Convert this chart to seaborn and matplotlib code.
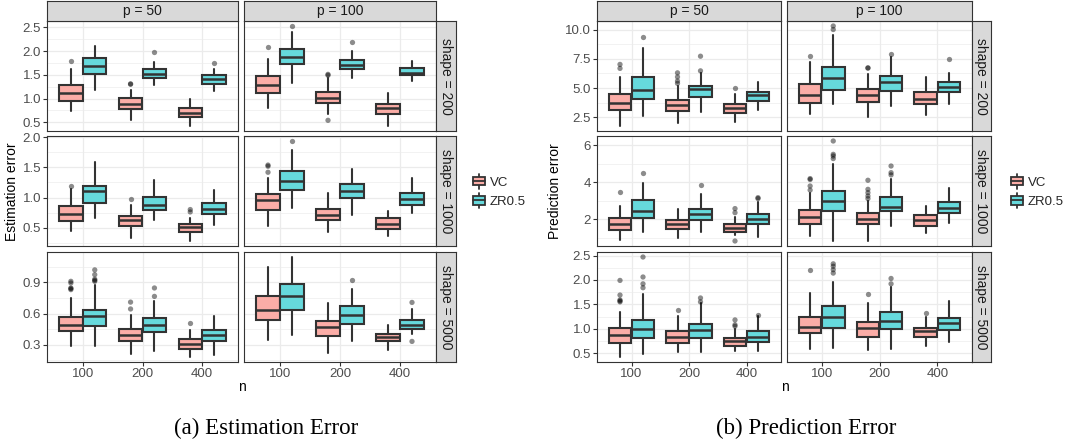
import numpy as np
import pandas as pd
import seaborn as sns
import matplotlib
matplotlib.use("Agg")
import matplotlib.pyplot as plt
from matplotlib.ticker import MultipleLocator, FormatStrFormatter
from matplotlib.patches import Rectangle, Patch
from matplotlib.lines import Line2D
from matplotlib.legend_handler import HandlerBase

methods = ["VC", "ZR0.5"]
n_levels = ["100", "200", "400"]
p_levels = ["p = 50", "p = 100"]
shape_levels = ["shape = 200", "shape = 1000", "shape = 5000"]

# box summaries, indexed [shape][p][n] -> (VC, ZR0.5)
est_lo = [
    [[(0.73, 1.19), (0.54, 1.28), (0.42, 1.15)], [(0.81, 1.33), (0.68, 1.44), (0.42, 1.36)]],
    [[(0.445, 0.667), (0.33, 0.627), (0.277, 0.545)], [(0.527, 0.82), (0.43, 0.705), (0.36, 0.75)]],
    [[(0.284, 0.29), (0.214, 0.236), (0.182, 0.204)], [(0.342, 0.397), (0.22, 0.332), (0.245, 0.40)]],
]
est_q1 = [
    [[(0.957, 1.525), (0.78, 1.44), (0.61, 1.31)], [(1.125, 1.735), (0.90, 1.615), (0.68, 1.49)]],
    [[(0.61, 0.905), (0.527, 0.79), (0.433, 0.72)], [(0.80, 1.133), (0.62, 1.0), (0.483, 0.883)]],
    [[(0.428, 0.477), (0.34, 0.419), (0.262, 0.332)], [(0.534, 0.63), (0.38, 0.502), (0.332, 0.45)]],
]
est_med = [
    [[(1.125, 1.685), (0.894, 1.525), (0.70, 1.41)], [(1.28, 1.875), (1.02, 1.71), (0.79, 1.54)]],
    [[(0.733, 1.11), (0.627, 0.87), (0.51, 0.805)], [(0.96, 1.28), (0.71, 1.11), (0.567, 0.97)]],
    [[(0.493, 0.58), (0.397, 0.493), (0.31, 0.397)], [(0.637, 0.765), (0.47, 0.589), (0.375, 0.493)]],
]
est_q3 = [
    [[(1.294, 1.854), (1.005, 1.63), (0.80, 1.49)], [(1.47, 2.04), (1.14, 1.805), (0.885, 1.64)]],
    [[(0.855, 1.19), (0.693, 1.017), (0.567, 0.905)], [(1.055, 1.44), (0.805, 1.22), (0.66, 1.083)]],
    [[(0.563, 0.637), (0.455, 0.557), (0.355, 0.445)], [(0.765, 0.888), (0.531, 0.669), (0.406, 0.54)]],
]
est_hi = [
    [[(1.63, 2.11), (1.19, 1.78), (0.98, 1.63)], [(1.84, 2.40), (1.44, 2.0), (1.125, 1.80)]],
    [[(1.14, 1.59), (0.87, 1.29), (0.667, 1.12)], [(1.333, 1.79), (1.07, 1.47), (0.78, 1.32)]],
    [[(0.75, 0.87), (0.59, 0.717), (0.438, 0.58)], [(1.048, 1.144), (0.70, 0.836), (0.493, 0.644)]],
]
est_out = [
    [[([1.79], []), ([1.31, 1.30], [1.99]), ([], [1.74])],
     [([2.09], [2.53]), ([1.49, 1.51, 0.54], [2.19]), ([], [])]],
    [[([1.19], []), ([0.97], []), ([0.80, 0.76], [])],
     [([1.54, 1.52, 1.42], [1.94]), ([], []), ([], [])]],
    [[([0.83, 0.846, 0.894, 0.91, 0.84], [0.91, 0.93, 0.974, 1.02, 0.92]), ([0.644, 0.71], [0.765, 0.846]), ([0.509], [])],
     [([], []), ([], [0.926]), ([], [0.707, 0.332])]],
]

pred_lo = [
    [[(1.76, 2.61), (2.04, 2.98), (2.12, 3.12)], [(2.75, 3.63), (2.5, 3.46), (2.69, 3.63)]],
    [[(0.86, 1.33), (1.01, 1.33), (1.14, 1.06)], [(1.1, 0.83), (0.83, 1.64), (1.28, 1.78)]],
    [[(0.42, 0.49), (0.52, 0.52), (0.535, 0.55)], [(0.59, 0.6), (0.57, 0.59), (0.64, 0.73)]],
]
pred_q1 = [
    [[(3.12, 4.06), (3.06, 4.2), (2.84, 3.89)], [(3.69, 4.83), (3.80, 4.74), (3.6, 4.68)]],
    [[(1.42, 2.05), (1.46, 1.95), (1.34, 1.77)], [(1.77, 2.45), (1.73, 2.45), (1.64, 2.32)]],
    [[(0.717, 0.807), (0.705, 0.807), (0.636, 0.725)], [(0.91, 1.02), (0.84, 0.99), (0.84, 0.975)]],
]
pred_med = [
    [[(3.74, 4.83), (3.55, 4.88), (3.27, 4.4)], [(4.4, 5.87), (4.4, 5.53), (4.03, 5.06)]],
    [[(1.73, 2.45), (1.73, 2.27), (1.55, 2.0)], [(2.15, 2.99), (2.04, 2.66), (1.96, 2.63)]],
    [[(0.874, 0.99), (0.82, 0.975), (0.74, 0.84)], [(1.04, 1.25), (1.01, 1.16), (0.96, 1.11)]],
]
pred_q3 = [
    [[(4.46, 5.96), (3.97, 5.17), (3.63, 4.68)], [(5.31, 6.76), (4.94, 6.02), (4.68, 5.48)]],
    [[(2.05, 3.03), (1.96, 2.54), (1.77, 2.27)], [(2.49, 3.53), (2.36, 3.23), (2.22, 2.94)]],
    [[(1.02, 1.18), (0.96, 1.1), (0.807, 0.955)], [(1.25, 1.47), (1.14, 1.35), (1.02, 1.21)]],
]
pred_hi = [
    [[(5.96, 8.38), (5.17, 6.3), (4.46, 5.53)], [(7.19, 9.57), (6.16, 7.66), (5.91, 6.30)]],
    [[(2.72, 3.95), (2.54, 3.35), (2.15, 2.94)], [(3.44, 5.01), (2.99, 4.2), (2.72, 3.71)]],
    [[(1.35, 1.72), (1.26, 1.52), (0.99, 1.26)], [(1.73, 1.96), (1.52, 1.86), (1.23, 1.57)]],
]
pred_out = [
    [[([7.02, 6.68], [9.32]), ([6.3, 5.95, 5.6, 5.4], [7.72, 6.47]), ([4.97], [])],
     [([7.72], [10.3, 10.0]), ([6.73, 6.70], [7.87]), ([], [7.44])]],
    [[([3.5], [4.49]), ([], [3.84]), ([2.58, 2.36, 0.83], [3.17, 3.12])],
     [([4.2, 4.15, 3.8, 3.58], [6.23, 5.51, 5.42, 5.28]), ([4.11, 3.62, 3.44, 3.26, 3.12], [4.88, 4.52, 4.4]), ([], [])]],
    [[([1.99, 1.69, 1.59, 1.55, 1.57], [2.47, 2.06, 1.92, 1.84]), ([1.38], [1.63, 1.55]), ([1.18, 1.08, 1.05], [1.28])],
     [([2.21], [2.33, 2.28, 2.21, 2.14]), ([1.72], [2.03, 1.92]), ([1.33], [])]],
]

sns.set_theme(style="white")
plt.rcParams["font.family"] = ["Liberation Sans", "DejaVu Sans"]

W, H = 1071, 445
fig = plt.figure(figsize=(W / 100, H / 100), dpi=100)

fills = ["#FBADA7", "#66D9DC"]
EDGE = "#333333"
GRID = "#EBEBEB"
offsets = [-0.2, 0.2]
row_px = [(21, 131), (136, 246), (252, 362)]


def px_axes(x0, y0, x1, y1):
    return fig.add_axes([x0 / W, 1 - y1 / H, (x1 - x0) / W, (y1 - y0) / H])


def box_panel(ax, lo, q1, med, q3, hi, out):
    stats, pos, cols = [], [], []
    for i in range(3):
        for m in range(2):
            stats.append(dict(whislo=lo[i][m], q1=q1[i][m], med=med[i][m],
                              q3=q3[i][m], whishi=hi[i][m], fliers=[]))
            pos.append(i + offsets[m])
            cols.append(fills[m])
    bp = ax.bxp(stats, positions=pos, widths=0.39, patch_artist=True,
                showcaps=False, showfliers=False,
                boxprops=dict(edgecolor=EDGE, linewidth=1.5),
                whiskerprops=dict(color=EDGE, linewidth=1.5),
                medianprops=dict(color=EDGE, linewidth=1.8, solid_capstyle="butt"),
                zorder=2)
    for patch, c in zip(bp["boxes"], cols):
        patch.set_facecolor(c)
    rows = [(n_levels[i], methods[m], v) for i in range(3) for m in range(2) for v in out[i][m]]
    if rows:
        df = pd.DataFrame(rows, columns=["n", "method", "value"])
        sns.stripplot(data=df, x="n", y="value", hue="method", order=n_levels,
                      hue_order=methods, dodge=True, jitter=False,
                      palette=["#000000", "#000000"], alpha=0.45, size=3.8,
                      linewidth=0, legend=False, ax=ax, zorder=3)


def strip(x0, y0, x1, y1, label, rot):
    sax = px_axes(x0, y0, x1, y1)
    sax.set_facecolor("#D9D9D9")
    sax.set_xticks([])
    sax.set_yticks([])
    for s in sax.spines.values():
        s.set_color(EDGE)
        s.set_linewidth(0.8)
    sax.text(0.5, 0.5, label, transform=sax.transAxes, ha="center", va="center",
             rotation=rot, fontsize=10, color="#1A1A1A")


def draw_block(stats, cols, strip_x1, steps, fmts, ylabel, ylabel_x, caption, cap_x, legend_x):
    lo, q1, med, q3, hi, out = stats
    for r in range(3):
        y0, y1 = row_px[r]
        vals = []
        for c in range(2):
            for i in range(3):
                for m in range(2):
                    vals += [lo[r][c][i][m], hi[r][c][i][m]] + list(out[r][c][i][m])
        vmin, vmax = min(vals), max(vals)
        pad = 0.05 * (vmax - vmin)
        for c in range(2):
            ax = px_axes(cols[c][0], y0, cols[c][1], y1)
            ax.set_facecolor("white")
            box_panel(ax, lo[r][c], q1[r][c], med[r][c], q3[r][c], hi[r][c], out[r][c])
            ax.set_xlim(-0.6, 2.6)
            ax.set_ylim(vmin - pad, vmax + pad)
            ax.set_xticks(range(3))
            ax.set_xticklabels(n_levels)
            ax.yaxis.set_major_locator(MultipleLocator(steps[r]))
            ax.yaxis.set_minor_locator(MultipleLocator(steps[r] / 2))
            ax.yaxis.set_major_formatter(FormatStrFormatter(fmts[r]))
            ax.set_axisbelow(True)
            ax.grid(True, which="major", color=GRID, linewidth=0.9)
            ax.grid(True, which="minor", axis="y", color=GRID, linewidth=0.45)
            ax.xaxis.grid(True, which="major", color=GRID, linewidth=0.9)
            ax.set_xlabel("")
            ax.set_ylabel("")
            for s in ax.spines.values():
                s.set_visible(True)
                s.set_color(EDGE)
                s.set_linewidth(0.8)
            ax.tick_params(which="major", bottom=True, left=True, length=3, width=0.8,
                           color=EDGE, labelsize=9.5, labelcolor="#4D4D4D", pad=1.2)
            ax.tick_params(which="minor", length=0)
            if c > 0:
                ax.tick_params(axis="y", left=False, labelleft=False)
            if r < 2:
                ax.tick_params(axis="x", bottom=False, labelbottom=False)
            if r == 0:
                strip(cols[c][0], 1, cols[c][1], y0, p_levels[c], 0)
        strip(cols[1][1], y0, strip_x1, y1, shape_levels[r], 270)

    mid_y = (row_px[0][0] + row_px[2][1]) / 2
    fig.text(ylabel_x / W, 1 - mid_y / H, ylabel, rotation=90, ha="center", va="center",
             fontsize=10, color="black")
    fig.text((cols[0][0] + cols[1][1]) / 2 / W, 1 - 387 / H, "n", ha="center", va="center",
             fontsize=10, color="black")
    fig.text(cap_x / W, 1 - 428 / H, caption, ha="center", va="center", fontsize=16.5,
             family=["Liberation Serif", "DejaVu Serif"], color="black")
    handles = [Patch(facecolor=f) for f in fills]
    fig.legend(handles, methods, handler_map={Patch: BoxKey()}, loc="center left",
               bbox_to_anchor=(legend_x / W, 1 - mid_y / H), frameon=False, fontsize=9.5,
               handlelength=1.1, handleheight=1.1, handletextpad=0.25, labelspacing=0.4,
               borderpad=0, borderaxespad=0)


class BoxKey(HandlerBase):
    def create_artists(self, legend, orig_handle, xdescent, ydescent, width, height, fontsize, trans):
        x0, y0 = -xdescent, -ydescent
        fc = orig_handle.get_facecolor()
        bx = Rectangle((x0 + 0.1 * width, y0 + 0.18 * height), 0.8 * width, 0.64 * height,
                       facecolor=fc, edgecolor=EDGE, linewidth=1.3, transform=trans)
        wl = Line2D([x0 + width / 2] * 2, [y0 - 0.1 * height, y0 + 0.18 * height],
                    color=EDGE, linewidth=1.3, transform=trans)
        wh = Line2D([x0 + width / 2] * 2, [y0 + 0.82 * height, y0 + 1.1 * height],
                    color=EDGE, linewidth=1.3, transform=trans)
        md = Line2D([x0 + 0.1 * width, x0 + 0.9 * width], [y0 + height / 2] * 2,
                    color=EDGE, linewidth=1.3, transform=trans)
        return [wl, wh, bx, md]


draw_block((est_lo, est_q1, est_med, est_q3, est_hi, est_out),
           [(47, 238), (244, 436)], 456, [0.5, 0.5, 0.3], ["%.1f", "%.1f", "%.1f"],
           "Estimation error", 12, "(a) Estimation Error", 266, 472)
draw_block((pred_lo, pred_q1, pred_med, pred_q3, pred_hi, pred_out),
           [(597, 781), (787, 972)], 991, [2.5, 2.0, 0.5], ["%.1f", "%.0f", "%.1f"],
           "Prediction error", 555, "(b) Prediction Error", 806, 1010)

fig.savefig("out.png", dpi=100, facecolor="white")
